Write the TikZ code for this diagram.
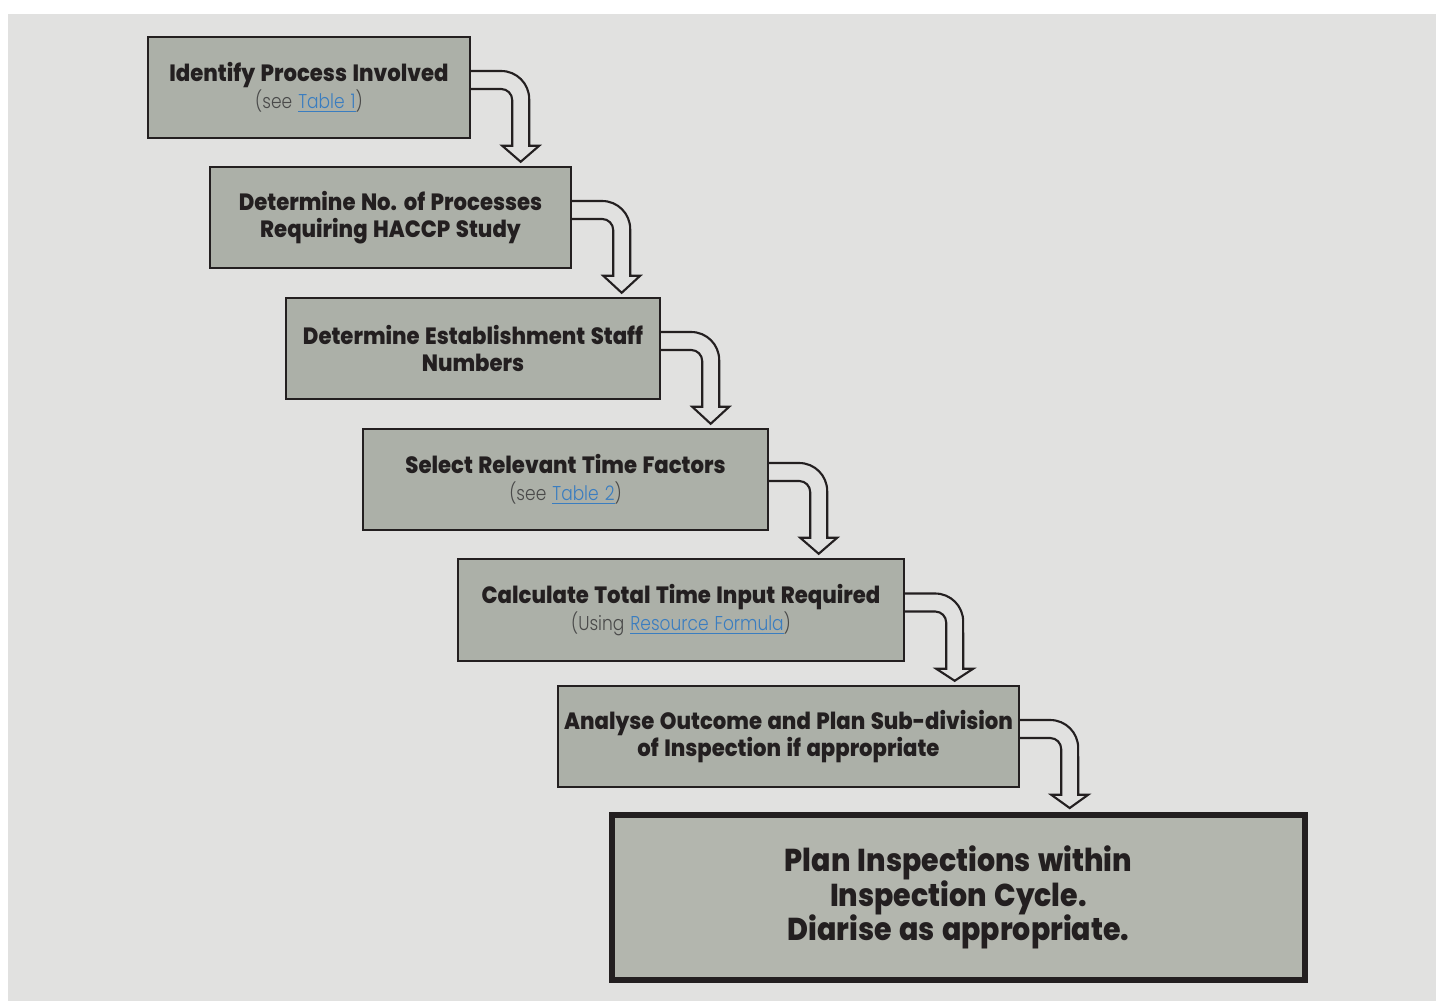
\documentclass[tikz,border=0pt]{standalone}
\usepackage{fontspec}
\setmainfont{Poppins}[FakeStretch=0.9, WordSpace=1.35, BoldFont={Poppins ExtraBold}]
\newfontfamily\lightfont{Poppins Light}[FakeStretch=0.85, WordSpace=1.3]
\usepackage{tikz}
\usetikzlibrary{calc}
\usepackage{xcolor}
\definecolor{pagegray}{HTML}{E1E1E0}
\definecolor{boxgray}{HTML}{ACB0A8}
\definecolor{biggray}{HTML}{B3B6AE}
\definecolor{inkdark}{HTML}{231F20}
\definecolor{seegray}{HTML}{4A4A4A}
\definecolor{linkblue}{HTML}{3A7DC0}

\newcommand{\tlink}[1]{{\color{linkblue}\underline{#1}}}
\newcommand{\seeline}[1]{{\lightfont\mdseries\fontsize{11.4}{15.3}\selectfont\color{seegray}#1}}

% hollow bent arrow from the east side of #1 down onto #2
\newcommand{\stepArrow}[2]{%
  \draw[hollow]
    ($(#1.east)+(0,-16.5)$) -- ($(#1.east)+(30,-16.5)$)
    arc[start angle=90, end angle=0, radius=0.56cm]
    -- ($(#1.south east)+(58,6.5)$) -- ++(10,0)
    -- ($([xshift=0.99cm]#1.east)!(#2.north)!([xshift=0.99cm]#1.south east)+(0,-4)$)
    -- ($(#1.south east)+(31,6.5)$) -- ++(10,0)
    -- ($(#1.east)+(41,12.5)$)
    arc[start angle=0, end angle=90, radius=0.22cm]
    -- ($(#1.east)+(0,1.5)$);}

\begin{document}
\begin{tikzpicture}[
    x=0.02cm, y=-0.02cm,
    stepbox/.style={draw=inkdark, line width=1.4pt, fill=boxgray, align=center,
                    minimum height=2.02cm, inner sep=2pt, text=inkdark,
                    font=\fontsize{13.4}{15.3}\selectfont\bfseries},
    bigbox/.style={stepbox, line width=3.4pt, fill=biggray, minimum height=3.3cm,
                   font=\fontsize{18}{19.8}\selectfont\bfseries},
    hollow/.style={draw=inkdark, line width=1.2pt, line join=miter}
]
\useasboundingbox (0,0) rectangle (1436,1001);
\fill[pagegray] (8,14) rectangle (1436,1001);

% steps
\node[stepbox, minimum width=6.44cm] (identify) at (309,87.5)
  {Identify Process Involved\\\seeline{(see \tlink{Table 1})}};
\node[stepbox, minimum width=7.22cm] (processes) at (390.5,217.5)
  {Determine No. of Processes\\Requiring HACCP Study};
\node[stepbox, minimum width=7.48cm] (staff) at (473,348.5)
  {Determine Establishment Staff\\Numbers};
\node[stepbox, minimum width=8.10cm] (factors) at (565.5,479.5)
  {Select Relevant Time Factors\\\seeline{(see \tlink{Table 2})}};
\node[stepbox, minimum width=8.92cm, minimum height=2.04cm] (total) at (681,610)
  {Calculate Total Time Input Required\\\seeline{(Using \tlink{Resource Formula})}};
\node[stepbox, minimum width=9.22cm] (outcome) at (788.5,736.5)
  {Analyse Outcome and Plan Sub-division\\of Inspection if appropriate};
\node[bigbox, minimum width=13.86cm] (plan) at (958.5,897.5)
  {Plan Inspections within\\Inspection Cycle.\\Diarise as appropriate.};

% connectors
\foreach \a/\b in {identify/processes, processes/staff, staff/factors,
                   factors/total, total/outcome, outcome/plan}
  \stepArrow{\a}{\b};

\end{tikzpicture}
\end{document}
